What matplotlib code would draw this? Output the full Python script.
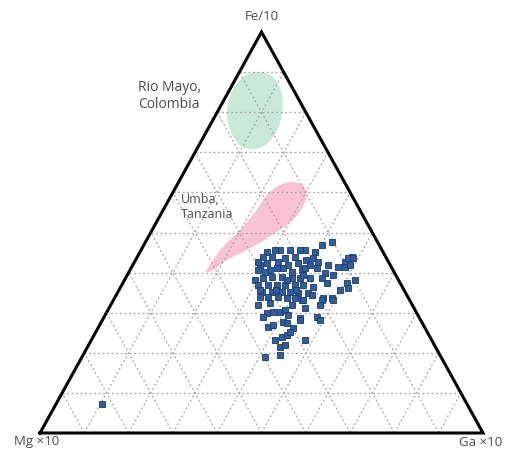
import numpy as np
import matplotlib
matplotlib.use("Agg")
import matplotlib.pyplot as plt
from matplotlib.patches import Polygon

# Sample compositions (percent of Fe/10, Ga x10; Mg x10 is the remainder)
fe = [45.6, 45.1, 43.9, 43.9, 43.6, 43.9, 42.4, 41.9, 42.4, 42.6,
      41.9, 41.1, 40.1, 40.6, 38.2, 38.7, 38.9, 38.9, 38.7, 38.7,
      36.9, 36.9, 36.9, 36.9, 36.9, 36.9, 35.2, 35.2, 35.2, 35.2,
      34.9, 47.6, 45.6, 45.1, 43.6, 43.1, 43.9, 42.6, 43.6, 41.4,
      41.4, 41.1, 41.1, 39.4, 39.9, 39.4, 38.7, 37.4, 37.4, 36.2,
      36.4, 34.9, 33.7, 33.7, 33.9, 33.9, 33.9, 33.7, 33.7, 33.2,
      31.9, 30.2, 30.2, 30.7, 29.9, 29.4, 28.7, 26.4, 26.9, 27.7,
      27.4, 26.2, 23.9, 24.4, 21.4, 21.9, 19.5, 19.0, 33.2, 33.2,
      31.9, 33.2, 28.9, 28.2, 23.2, 28.2, 43.6, 41.9, 38.2, 28.9,
      45.6, 40.6, 38.7, 42.6, 7.2,
      45.6, 41.1, 40.6, 40.1, 38.2, 35.7, 35.7, 35.7, 41.9, 34.4,
      31.9, 32.4, 31.2, 42.6, 45.6, 46.9, 41.9, 35.7, 23.2, 25.2]
ga = [31.3, 28.8, 28.3, 30.4, 33.4, 35.6, 37.0, 28.7, 30.0, 32.4,
      35.0, 32.9, 36.8, 38.8, 29.4, 31.0, 32.9, 35.1, 37.5, 39.3,
      30.7, 33.0, 35.0, 36.8, 39.1, 40.9, 32.5, 34.7, 37.0, 38.8,
      40.7, 42.1, 37.0, 39.5, 39.8, 38.6, 48.4, 47.5, 47.7, 46.5,
      48.1, 39.2, 41.9, 39.6, 44.3, 46.4, 44.3, 46.0, 50.6, 51.4,
      43.4, 43.0, 47.0, 49.0, 32.7, 34.5, 36.7, 38.9, 40.7, 42.5,
      33.2, 37.5, 39.1, 39.9, 36.3, 41.2, 44.3, 38.2, 39.1, 41.0,
      42.0, 44.0, 42.6, 43.5, 43.5, 44.3, 44.4, 41.3, 42.8, 47.0,
      47.2, 49.5, 48.0, 49.1, 48.2, 44.6, 48.8, 49.0, 52.0, 35.8,
      33.6, 28.8, 41.6, 41.4, 10.4,
      30.2, 34.3, 31.6, 30.7, 36.6, 39.9, 35.4, 31.8, 40.0, 44.2,
      40.9, 35.7, 44.2, 27.9, 35.8, 40.2, 44.0, 49.8, 41.4, 43.8]

# Reference fields (outline compositions, Fe/10 and Ga x10 in percent)
colombia_fe = [90.0, 89.3, 86.8, 83.0, 78.8, 74.8, 71.8, 70.8, 71.8, 75.1,
               79.3, 83.8, 87.3, 89.3]
colombia_ga = [3.9, 7.2, 10.5, 13.3, 15.1, 15.8, 15.0, 12.6, 9.2, 5.5,
               2.5, 0.9, 0.9, 2.0]
tanzania_fe = [40.6, 46.1, 50.6, 55.6, 59.4, 61.8, 62.6, 61.8, 59.4, 56.4,
               53.1, 50.6, 47.4, 45.1, 43.1, 40.6]
tanzania_ga = [17.3, 18.0, 19.8, 21.1, 21.5, 23.2, 25.7, 28.4, 30.5, 31.1,
               30.5, 28.8, 25.9, 23.2, 20.6, 18.7]

corner_labels = ["Fe/10", "Mg ×10", "Ga ×10"]
field_labels = ["Rio Mayo,\nColombia", "Umba,\nTanzania"]


def project(fe_pct, ga_pct):
    f = np.asarray(fe_pct, float)
    g = np.asarray(ga_pct, float)
    mg = 100.0 - f - g
    total = f + g + mg
    f, g = f / total, g / total
    return g + 0.5 * f, f


def smooth_closed(x, y, n=20):
    pts = np.column_stack([x, y])
    m = len(pts)
    out = []
    for i in range(m):
        p0, p1, p2, p3 = pts[i - 1], pts[i], pts[(i + 1) % m], pts[(i + 2) % m]
        t = np.linspace(0, 1, n, endpoint=False)[:, None]
        seg = 0.5 * ((2 * p1) + (-p0 + p2) * t + (2 * p0 - 5 * p1 + 4 * p2 - p3) * t ** 2
                     + (-p0 + 3 * p1 - 3 * p2 + p3) * t ** 3)
        out.append(seg)
    return np.vstack(out)


W, H = 507, 453
fig = plt.figure(figsize=(W / 100, H / 100), dpi=100)
ax = fig.add_axes([40 / W, 20 / H, 443 / W, 401 / H])
ax.set_xlim(0, 1)
ax.set_ylim(0, 1)
ax.axis("off")

# Fields
for fx, gx, col in [(colombia_fe, colombia_ga, "#c2e7d5"),
                    (tanzania_fe, tanzania_ga, "#f8bcd0")]:
    px, py = project(fx, gx)
    outline = smooth_closed(px, py)
    ax.add_patch(Polygon(outline, closed=True, facecolor=col, edgecolor="none",
                         alpha=0.9, zorder=1))

# Dotted grid every 10 %
grid_kw = dict(color="#a8a8a8", lw=0.9, ls=(0, (1.6, 2.0)), zorder=2)
for k in range(1, 10):
    c = k / 10
    ax.plot([c / 2, 1 - c / 2], [c, c], **grid_kw)               # constant Fe
    ax.plot([c, c + (1 - c) / 2], [0, 1 - c], **grid_kw)          # constant Ga
    ax.plot([1 - c, (1 - c) / 2], [0, 1 - c], **grid_kw)          # constant Mg

# Triangle frame
ax.plot([0, 1, 0.5, 0], [0, 0, 1, 0], color="black", lw=2.2,
        solid_joinstyle="miter", zorder=3, clip_on=False)

# Samples
sx, sy = project(fe, ga)
ax.scatter(sx, sy, marker="s", s=24, facecolor="#2e5e9e", edgecolor="#1b3a6b",
           linewidths=0.6, zorder=4)

font = ["Open Sans", "DejaVu Sans"]
tc = "#4a4a4a"
fig.text(262 / W, 1 - 16 / H, corner_labels[0], ha="center", va="center",
         fontsize=9.5, color=tc, family=font)
fig.text(37 / W, 1 - 442 / H, corner_labels[1], ha="center", va="center",
         fontsize=9.5, color=tc, family=font)
fig.text(481 / W, 1 - 442 / H, corner_labels[2], ha="center", va="center",
         fontsize=9.5, color=tc, family=font)
fig.text(138 / W, 1 - 96 / H, field_labels[0], ha="left", va="center",
         fontsize=10, color=tc, family=font, linespacing=1.2)
fig.text(181 / W, 1 - 207 / H, field_labels[1], ha="left", va="center",
         fontsize=9, color=tc, family=font, linespacing=1.25)

fig.savefig("out.png", dpi=100, facecolor="white")
